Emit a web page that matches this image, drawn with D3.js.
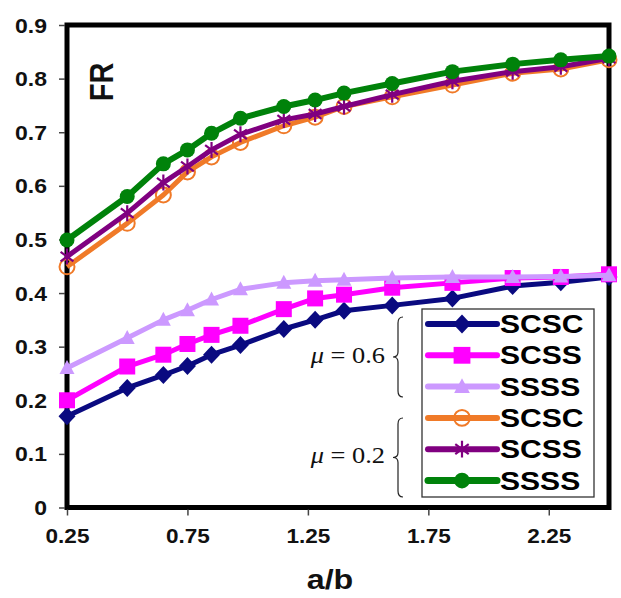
<!DOCTYPE html>
<html><head><meta charset="utf-8">
<script src="https://cdn.jsdelivr.net/npm/d3@7"></script>
<style>html,body{margin:0;padding:0;background:#fff}svg{display:block}</style>
</head><body><svg id="c" width="621" height="598"></svg>
<script>
const xVals = [0.25,0.5,0.65,0.75,0.85,0.97,1.15,1.28,1.4,1.6,1.85,2.1,2.3,2.5];
const SCSC06 = [0.17,0.223,0.247,0.264,0.285,0.303,0.333,0.35,0.367,0.377,0.39,0.413,0.42,0.43];
const SCSS06 = [0.2,0.263,0.285,0.305,0.322,0.339,0.37,0.39,0.397,0.41,0.419,0.428,0.43,0.435];
const SSSS06 = [0.26,0.316,0.35,0.368,0.388,0.407,0.419,0.423,0.425,0.428,0.43,0.43,0.431,0.433];
const SCSC02 = [0.449,0.53,0.583,0.626,0.654,0.681,0.712,0.728,0.748,0.766,0.788,0.81,0.818,0.835];
const SCSS02 = [0.468,0.549,0.606,0.636,0.667,0.696,0.723,0.734,0.748,0.77,0.795,0.813,0.822,0.838];
const SSSS02 = [0.499,0.58,0.641,0.667,0.698,0.726,0.748,0.76,0.773,0.791,0.813,0.827,0.835,0.842];
const seriesNames = ["SCSC","SCSS","SSSS","SCSC","SCSS","SSSS"];
const xTicks = [0.25,0.75,1.25,1.75,2.25];
const yTicks = [0,0.1,0.2,0.3,0.4,0.5,0.6,0.7,0.8,0.9];

const series = [
  {name:seriesNames[0], values:SCSC06, color:"#0a0a80", marker:"diamond", w:5},
  {name:seriesNames[1], values:SCSS06, color:"#ff00ff", marker:"square", w:5},
  {name:seriesNames[2], values:SSSS06, color:"#cc99ff", marker:"triangle", w:5},
  {name:seriesNames[3], values:SCSC02, color:"#f07a28", marker:"ocircle", w:5},
  {name:seriesNames[4], values:SCSS02, color:"#800080", marker:"star", w:5},
  {name:seriesNames[5], values:SSSS02, color:"#00820a", marker:"circle", w:6}
];

const svg = d3.select("#c");
const L=67, R=609, T=25, B=507.5;
const x = d3.scaleLinear().domain([0.25,2.5]).range([L,R]);
const y = d3.scaleLinear().domain([0,0.9]).range([B,T]);
const K = 1.15;
const SANS = "Liberation Sans, Arial, sans-serif";

// frame
svg.append("rect").attr("x",L).attr("y",T).attr("width",R-L).attr("height",B-T)
  .attr("fill","#fff").attr("stroke","#000").attr("stroke-width",5);

// axes
const ya = svg.append("g").attr("transform",`translate(${L-2},0)`)
  .call(d3.axisLeft(y).tickValues(yTicks).tickSize(6).tickPadding(12).tickFormat(d=>d===0?"0":d3.format(".1f")(d)));
ya.select(".domain").remove();
ya.selectAll(".tick line").attr("stroke","#444").attr("stroke-width",1.5);
ya.selectAll(".tick text").attr("font-family",SANS).attr("font-weight","bold").attr("font-size",20)
  .attr("fill","#111").attr("x",0).attr("dy","0.35em")
  .attr("transform",`translate(-18,0) scale(${K},1)`);

const xa = svg.append("g").attr("transform",`translate(0,${B+2})`)
  .call(d3.axisBottom(x).tickValues(xTicks).tickSize(6).tickPadding(12).tickFormat(d3.format(".2f")));
xa.select(".domain").remove();
xa.selectAll(".tick line").attr("stroke","#444").attr("stroke-width",1.5);
xa.selectAll(".tick text").attr("font-family",SANS).attr("font-weight","bold").attr("font-size",20.5)
  .attr("fill","#111").attr("y",0).attr("dy","0")
  .attr("transform",`translate(0,33) scale(1.1,1)`);

// titles
svg.append("text").attr("font-family",SANS).attr("font-weight","bold").attr("font-size",28)
  .attr("text-anchor","middle").attr("fill","#111")
  .attr("transform",`translate(330,589) scale(${K},1)`).text("a/b");
svg.append("text").attr("font-family",SANS).attr("font-weight","bold").attr("font-size",29)
  .attr("text-anchor","middle").attr("fill","#111")
  .attr("transform",`translate(113,82) scale(${K},1) rotate(-90)`).text("FR");

// markers
function drawMarker(g, type, cx, cy, color, scale){
  const s = scale||1;
  if(type==="diamond"){
    g.append("path").attr("d",`M${cx},${cy-9*s}L${cx+8.5*s},${cy}L${cx},${cy+9*s}L${cx-8.5*s},${cy}Z`).attr("fill",color);
  } else if(type==="square"){
    g.append("rect").attr("x",cx-8*s).attr("y",cy-8*s).attr("width",16*s).attr("height",16*s).attr("fill",color);
  } else if(type==="triangle"){
    g.append("path").attr("d",`M${cx},${cy-8*s}L${cx+7.5*s},${cy+6*s}L${cx-7.5*s},${cy+6*s}Z`).attr("fill",color);
  } else if(type==="circle"){
    g.append("circle").attr("cx",cx).attr("cy",cy).attr("r",7.5*s).attr("fill",color);
  } else if(type==="ocircle"){
    g.append("circle").attr("cx",cx).attr("cy",cy).attr("r",7.5*s).attr("fill","none").attr("stroke",color).attr("stroke-width",2);
  } else if(type==="star"){
    const a=8*s;
    g.append("path").attr("d",`M${cx},${cy-a}L${cx},${cy+a}M${cx-a*0.8},${cy-a*0.6}L${cx+a*0.8},${cy+a*0.6}M${cx-a*0.8},${cy+a*0.6}L${cx+a*0.8},${cy-a*0.6}`)
      .attr("stroke",color).attr("stroke-width",2.2).attr("fill","none");
  }
}

const line = d3.line().x((d,i)=>x(xVals[i])).y(d=>y(d));
series.forEach(s=>{
  const g = svg.append("g");
  g.append("path").attr("d",line(s.values)).attr("fill","none").attr("stroke",s.color)
    .attr("stroke-width",s.w).attr("stroke-linejoin","round");
  s.values.forEach((v,i)=>drawMarker(g,s.marker,x(xVals[i]),y(v),s.color));
});

// legend
const lg = svg.append("g");
lg.append("rect").attr("x",422).attr("y",309).attr("width",172).attr("height",188)
  .attr("fill","#fff").attr("stroke","#333").attr("stroke-width",1.3);
series.forEach((s,i)=>{
  const cy = 324 + i*31.3;
  lg.append("line").attr("x1",428).attr("x2",497).attr("y1",cy).attr("y2",cy)
    .attr("stroke",s.color).attr("stroke-width",s.w+1).attr("stroke-linecap","round");
  drawMarker(lg,s.marker,462,cy,s.color,1.05);
  lg.append("text").attr("font-family",SANS).attr("font-weight","bold").attr("font-size",25.5)
    .attr("fill","#000").attr("dy","0.36em")
    .attr("transform",`translate(500,${cy}) scale(1.18,1)`).text(s.name);
});

// mu labels with braces
function muLabel(val, cy, y1, y2){
  const t = svg.append("text").attr("font-family","Liberation Serif, Times New Roman, serif")
    .attr("font-size",24).attr("fill","#111").attr("text-anchor","end").attr("dy","0.35em")
    .attr("transform",`translate(385,${cy}) scale(1.1,1)`);
  t.append("tspan").attr("font-style","italic").text("μ");
  t.append("tspan").text(" = " + val);
  const xm=393, xb=398, xe=403, mid=(y1+y2)/2;
  svg.append("path").attr("fill","none").attr("stroke","#222").attr("stroke-width",1.2)
    .attr("d",`M${xe},${y1} Q${xb},${y1} ${xb},${y1+6} L${xb},${mid-5} Q${xb},${mid} ${xm},${mid} Q${xb},${mid} ${xb},${mid+5} L${xb},${y2-6} Q${xb},${y2} ${xe},${y2}`);
}
muLabel("0.6", 355, 317, 397);
muLabel("0.2", 455, 418, 497);
</script></body></html>
